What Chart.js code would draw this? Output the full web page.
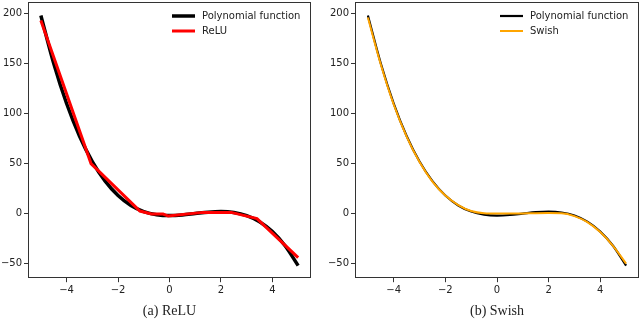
<!DOCTYPE html>
<html>
<head>
<meta charset="utf-8">
<script src="https://cdn.jsdelivr.net/npm/chart.js@4.4.1/dist/chart.umd.min.js"></script>
<style>
html, body { margin: 0; padding: 0; background: #fff; }
.panel { position: absolute; top: 0; width: 320px; height: 320px; }
</style>
</head>
<body>
<div class="panel" style="left:0"><canvas id="reluChart"></canvas></div>
<div class="panel" style="left:320px"><canvas id="swishChart"></canvas></div>
<script>
// Values
var polyX = [-5, -4.5, -4, -3.5, -3, -2.5, -2, -1.5, -1, -0.5, 0, 0.5, 1, 1.5, 2, 2.5, 3, 3.5, 4, 4.5, 5];
var polyY = [198, 150, 110, 77.6, 52, 32.4, 18, 8.1, 2, -1.1, -2, -1.4, 0, 1.4, 2, 1.1, -2, -8.1, -18, -32.4, -52];

var reluX = [-5, -3.05, -1.15, -0.7, -0.25, -0.05, 1.3, 2.4, 3.4, 5];
var reluY = [193, 50, 2.5, -0.5, -0.5, -2.5, 1.2, 1.2, -5, -44];

var swishX = [-5, -4.5, -4, -3.5, -3, -2.5, -2, -1.5, -1, -0.5, 0, 0.5, 1, 1.5, 2, 2.5, 3, 3.5, 4, 4.5, 5];
var swishY = [196, 149, 109, 77, 51.5, 32, 18, 8.5, 2.5, 0.3, 0, 0, 0.2, 0.4, 0.5, 0.3, -2.5, -8.5, -18.5, -32.5, -50];

var xTicks = [-4, -2, 0, 2, 4];
var yTicks = [-50, 0, 50, 100, 150, 200];

var toPoints = function (xs, ys) {
    var pts = [];
    for (var i = 0; i < xs.length; i++) pts.push({ x: xs[i], y: ys[i] });
    return pts;
};

var fmt = function (v) { return String(v).replace('-', '\u2212'); };

// matplotlib-like box around the axes and legend in the upper right
var mplDecor = {
    id: 'mplDecor',
    afterDatasetsDraw: function (chart) {
        var a = chart.chartArea, ctx = chart.ctx;
        ctx.save();
        ctx.strokeStyle = '#333';
        ctx.lineWidth = 1;
        ctx.strokeRect(Math.round(a.left) + 0.5, Math.round(a.top) + 0.5,
            Math.round(a.width) - 1, Math.round(a.height) - 1);

        var x0 = a.right - 139, y0 = a.top + 14;
        ctx.font = '10px "DejaVu Sans"';
        ctx.textBaseline = 'middle';
        chart.data.datasets.forEach(function (ds, i) {
            var y = y0 + i * 15;
            ctx.strokeStyle = ds.borderColor;
            ctx.lineWidth = ds.borderWidth;
            ctx.beginPath();
            ctx.moveTo(x0, y);
            ctx.lineTo(x0 + 23, y);
            ctx.stroke();
            ctx.fillStyle = '#222';
            ctx.fillText(ds.label, x0 + 30, y);
        });
        ctx.restore();
    }
};

var axisBase = function (ticks, min, max, size) {
    return {
        type: 'linear',
        min: min,
        max: max,
        border: { display: false },
        grid: { drawOnChartArea: false, drawTicks: true, tickLength: 4, tickColor: '#333' },
        ticks: {
            color: '#222',
            font: { family: '"DejaVu Sans"', size: 10 },
            padding: 2,
            callback: fmt
        },
        afterBuildTicks: function (scale) {
            scale.ticks = ticks.map(function (v) { return { value: v }; });
        },
        afterFit: function (scale) {
            if (scale.isHorizontal()) scale.height = size; else scale.width = size;
            scale.paddingTop = 0;
            scale.paddingBottom = 0;
            scale.paddingLeft = 0;
            scale.paddingRight = 0;
        }
    };
};

var makeChart = function (id, datasets, caption, yWidth, padRight) {
    var ctx = document.getElementById(id).getContext('2d');
    return new Chart(ctx, {
        type: 'line',
        data: { datasets: datasets },
        options: {
            responsive: true,
            maintainAspectRatio: false,
            animation: false,
            events: [],
            layout: { padding: { top: 2, right: padRight, left: 0, bottom: 0 } },
            elements: { point: { radius: 0 } },
            scales: {
                x: axisBase(xTicks, -5.5, 5.5, 18),
                y: axisBase(yTicks, -64.6, 211.5, yWidth)
            },
            plugins: {
                legend: { display: false },
                tooltip: { enabled: false },
                title: {
                    display: true,
                    position: 'bottom',
                    fullSize: false,
                    text: caption,
                    color: '#222',
                    font: { family: '"Liberation Serif", serif', size: 14, weight: 'normal' },
                    padding: { top: 7, bottom: 0 }
                }
            }
        },
        plugins: [mplDecor]
    });
};

makeChart('reluChart', [
    {
        label: 'Polynomial function',
        data: toPoints(polyX, polyY),
        borderColor: '#000000',
        borderWidth: 3.5,
        cubicInterpolationMode: 'monotone',
        order: 2
    },
    {
        label: 'ReLU',
        data: toPoints(reluX, reluY),
        borderColor: '#ff0000',
        borderWidth: 3,
        tension: 0,
        order: 1
    }
], '(a) ReLU', 28, 9);

makeChart('swishChart', [
    {
        label: 'Polynomial function',
        data: toPoints(polyX, polyY),
        borderColor: '#000000',
        borderWidth: 2.2,
        cubicInterpolationMode: 'monotone',
        order: 2
    },
    {
        label: 'Swish',
        data: toPoints(swishX, swishY),
        borderColor: '#ffa500',
        borderWidth: 2,
        cubicInterpolationMode: 'monotone',
        order: 1
    }
], '(b) Swish', 35, 1);
</script>
</body>
</html>
